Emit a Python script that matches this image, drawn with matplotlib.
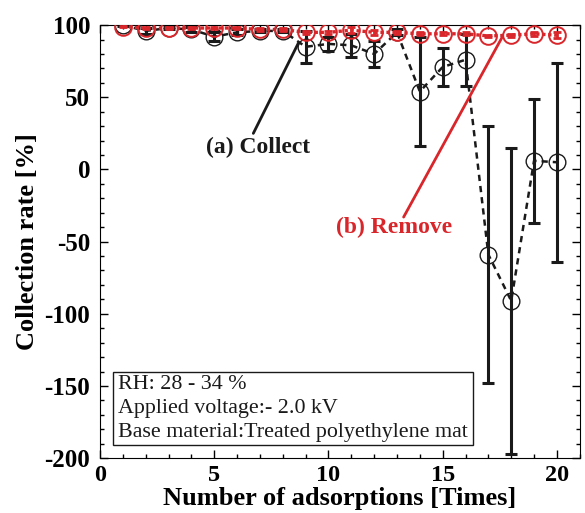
import numpy as np
import matplotlib
matplotlib.use("Agg")
import matplotlib.pyplot as plt
from matplotlib.patches import Rectangle
from matplotlib.ticker import MultipleLocator, FuncFormatter

# Data
times = np.arange(1, 21)
collect = [100, 96, 98, 97, 92, 95, 96, 96, 85, 87, 86, 80, 95, 54, 71, 76, -59, -91, 6, 5]
collect_err = [0.5, 2, 1, 2, 3, 2, 1, 1, 11, 5, 8, 9, 2, 38, 13, 18, 89, 106, 43, 69]
remove = [99, 98, 98, 98, 98, 98, 97, 97, 95, 95, 96.5, 95, 95, 94, 94, 94, 92.5, 93, 94, 93]
remove_err = [0.5, 1, 1, 1, 1, 1, 1, 1, 1, 1, 2, 1.5, 1, 1, 1, 1, 1, 1, 1.5, 2]

box_lines = ["RH: 28 - 34 %",
             "Applied voltage:- 2.0 kV",
             "Base material:Treated polyethylene mat"]

RED = "#d9262b"
BLACK = "#1a1a1a"

plt.rcParams['font.family'] = ['Liberation Serif', 'DejaVu Serif']

fig = plt.figure(figsize=(5.85, 5.13), dpi=100)
ax = fig.add_axes([0.171, 0.107, 0.820, 0.844])

# (a) Collect
ax.errorbar(times, collect, yerr=collect_err, fmt='none', ecolor=BLACK,
            elinewidth=2.2, capsize=4, capthick=2.2, zorder=2)
ax.plot(times, collect, color=BLACK, lw=1.8, linestyle=(0, (2.5, 2)),
        marker='o', markersize=12, markerfacecolor='none',
        markeredgecolor=BLACK, markeredgewidth=1.0, zorder=3)

# (b) Remove
ax.errorbar(times, remove, yerr=remove_err, fmt='none', ecolor=RED,
            elinewidth=2.0, capsize=3, capthick=2.0, zorder=4)
ax.plot(times, remove, color=RED, lw=2.4, linestyle=(0, (1, 0.8)),
        marker='o', markersize=12, markerfacecolor='none',
        markeredgecolor=RED, markeredgewidth=1.4, zorder=5)

ax.set_xlim(0, 21)
ax.set_ylim(-200, 100)
ax.xaxis.set_major_locator(MultipleLocator(5))
ax.xaxis.set_minor_locator(MultipleLocator(1))
ax.yaxis.set_major_locator(MultipleLocator(50))
ax.yaxis.set_minor_locator(MultipleLocator(10))
ax.yaxis.set_major_formatter(FuncFormatter(lambda v, p: f"{v:.0f}"))
ax.tick_params(which='both', direction='in', top=True, right=True, width=1)
ax.tick_params(which='major', length=6, labelsize=18)
ax.tick_params(which='minor', length=3)
ax.tick_params(axis='x', which='major', pad=5, labelsize=17.5)
ax.tick_params(axis='y', which='major', pad=7)
for lab in ax.get_xticklabels() + ax.get_yticklabels():
    lab.set_fontweight('bold')

ax.set_xlabel('Number of adsorptions [Times]', fontsize=19, fontweight='bold', labelpad=1)
ax.set_ylabel('Collection rate [%]', fontsize=19, fontweight='bold', labelpad=4)

# Annotations
ax.annotate('', xy=(8.68, 87.5), xytext=(6.71, 25),
            arrowprops=dict(arrowstyle='-', color=BLACK, lw=2, shrinkA=0, shrinkB=0))
ax.text(6.93, 15, '(a) Collect', fontsize=17, fontweight='bold', color=BLACK,
        ha='center', va='center')
ax.annotate('', xy=(17.63, 92.4), xytext=(13.29, -33),
            arrowprops=dict(arrowstyle='-', color=RED, lw=2, shrinkA=0, shrinkB=0))
ax.text(12.85, -40.5, '(b) Remove', fontsize=17, fontweight='bold', color=RED,
        ha='center', va='center')

# Condition box
ax.add_patch(Rectangle((0.027, 0.03), 0.75, 0.169, transform=ax.transAxes,
                       fill=False, edgecolor=BLACK, lw=1, zorder=6))
for i, line in enumerate(box_lines):
    ax.text(0.0375, 0.171 - i * 0.0555, line, transform=ax.transAxes,
            fontsize=15.8, va='center', ha='left', color=BLACK, zorder=7)

fig.savefig('out.png', dpi=100)
